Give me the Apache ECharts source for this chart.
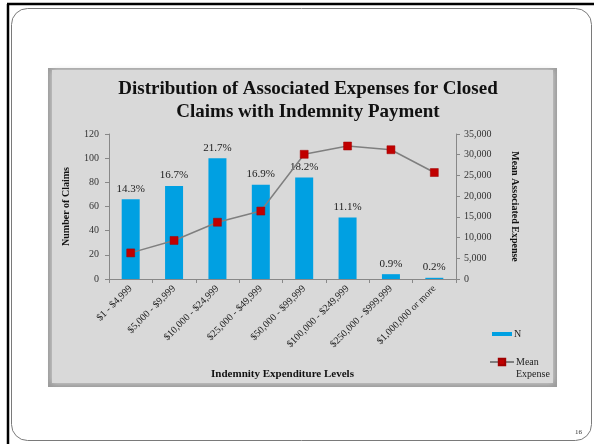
<!DOCTYPE html>
<html>
<head>
<meta charset="utf-8">
<script src="https://cdn.jsdelivr.net/npm/echarts@6/dist/echarts.min.js"></script>
<style>
  html, body { margin: 0; padding: 0; background: #ffffff; }
  #chart { width: 594px; height: 444px; }
</style>
</head>
<body>
<div id="chart"></div>
<script>
// Claim counts and mean associated expense per indemnity payment band
const categories = [
  '$1 - $4,999', '$5,000 - $9,999', '$10,000 - $24,999', '$25,000 - $49,999',
  '$50,000 - $99,999', '$100,000 - $249,999', '$250,000 - $999,999', '$1,000,000 or more'
];
const claimCounts = [66, 77, 100, 78, 84, 51, 4, 1];
const meanExpense = [6300, 9300, 13700, 16400, 30100, 32100, 31200, 25700];

const totalClaims = claimCounts.reduce((a, b) => a + b, 0);
const serif = 'Liberation Serif, Times New Roman, serif';

const chart = echarts.init(document.getElementById('chart'), null, { renderer: 'canvas' });

chart.setOption({
  backgroundColor: '#ffffff',
  animation: false,
  textStyle: { fontFamily: serif },
  graphic: [
    // slide frame
    { type: 'line', shape: { x1: 7, y1: 4, x2: 594, y2: 4 }, style: { stroke: '#000', lineWidth: 2.5 }, z: 0 },
    { type: 'line', shape: { x1: 8, y1: 4, x2: 8, y2: 444 }, style: { stroke: '#000', lineWidth: 2.5 }, z: 0 },
    { type: 'rect', shape: { x: 11.5, y: 8.5, width: 580, height: 432, r: 16 }, style: { fill: 'none', stroke: '#7a7a7a', lineWidth: 1 }, z: 0 },
    // chart panel with soft bevelled edge
    { type: 'rect', shape: { x: 48, y: 68, width: 509, height: 319 }, style: { fill: '#9a9a9a' }, z: 0 },
    { type: 'rect', shape: { x: 52, y: 70, width: 501, height: 313 }, style: { fill: '#d9d9d9', shadowBlur: 6, shadowColor: '#d9d9d9' }, z: 0 },
    // page number
    { type: 'text', left: 575, top: 429, style: { text: '16', font: '7px ' + serif, fill: '#333' }, z: 1 }
  ],
  title: {
    text: 'Distribution of Associated Expenses for Closed\nClaims with Indemnity Payment',
    left: 303,
    top: 73,
    textAlign: 'center',
    textStyle: { fontFamily: serif, fontSize: 19, fontWeight: 'bold', color: '#111', lineHeight: 23 }
  },
  legend: [
    {
      data: ['N'],
      left: 487, top: 324,
      icon: 'rect', itemWidth: 20, itemHeight: 4, itemGap: 2,
      textStyle: { fontFamily: serif, fontSize: 10, color: '#222', padding: [0, 0, 0, -3] }
    },
    {
      data: ['Mean Expense'],
      left: 484, top: 339,
      itemWidth: 24, itemHeight: 8,
      // leading empty line keeps "Mean" level with the marker, "Expense" below it
      formatter: () => ' \nMean\nExpense',
      textStyle: { fontFamily: serif, fontSize: 10, color: '#222', lineHeight: 12, padding: [0, 0, 0, -3] }
    }
  ],
  grid: {
    left: 109, right: 138, top: 134, bottom: 165,
    show: true, borderColor: '#9a9a9a', borderWidth: 1, backgroundColor: '#ffffff'
  },
  xAxis: {
    type: 'category',
    data: categories,
    name: 'Indemnity Expenditure Levels',
    nameLocation: 'middle',
    nameGap: 90,
    nameTextStyle: { fontFamily: serif, fontSize: 11, fontWeight: 'bold', color: '#111' },
    axisLine: { lineStyle: { color: '#888', width: 1 } },
    axisTick: { show: true, length: 4, alignWithLabel: false, lineStyle: { color: '#888' } },
    axisLabel: { rotate: 45, margin: 8, fontFamily: serif, fontSize: 10, color: '#222', interval: 0 }
  },
  yAxis: [
    {
      type: 'value',
      min: 0, max: 120, interval: 20,
      name: 'Number of Claims',
      nameLocation: 'middle',
      nameRotate: 90,
      nameGap: 38,
      nameTextStyle: { fontFamily: serif, fontSize: 10, fontWeight: 'bold', color: '#111' },
      axisLine: { show: true, lineStyle: { color: '#888' } },
      axisTick: { show: true, length: 4, lineStyle: { color: '#888' } },
      axisLabel: { fontFamily: serif, fontSize: 10, color: '#333', margin: 10 },
      splitLine: { show: false }
    },
    {
      type: 'value',
      min: 0, max: 35000, interval: 5000,
      name: 'Mean Associated Expense',
      nameLocation: 'middle',
      nameRotate: -90,
      nameGap: 54,
      nameTextStyle: { fontFamily: serif, fontSize: 10, fontWeight: 'bold', color: '#111' },
      axisLine: { show: true, lineStyle: { color: '#888' } },
      axisTick: { show: true, length: 4, lineStyle: { color: '#888' } },
      axisLabel: {
        fontFamily: serif, fontSize: 10, color: '#333', margin: 8,
        formatter: v => v.toLocaleString('en-US')
      },
      splitLine: { show: false }
    }
  ],
  series: [
    {
      name: 'N',
      type: 'bar',
      yAxisIndex: 0,
      data: claimCounts,
      barWidth: 18,
      itemStyle: { color: '#00a0e2' },
      label: {
        show: true,
        position: 'top',
        distance: 5,
        fontFamily: serif, fontSize: 11, color: '#222',
        formatter: p => (p.value / totalClaims * 100).toFixed(1) + '%'
      },
      z: 2
    },
    {
      name: 'Mean Expense',
      type: 'line',
      yAxisIndex: 1,
      data: meanExpense,
      symbol: 'rect',
      symbolSize: 8,
      lineStyle: { color: '#7f7f7f', width: 1.5 },
      itemStyle: { color: '#c00000', borderColor: '#a00000', borderWidth: 0.5 },
      z: 3
    }
  ]
});
</script>
</body>
</html>
